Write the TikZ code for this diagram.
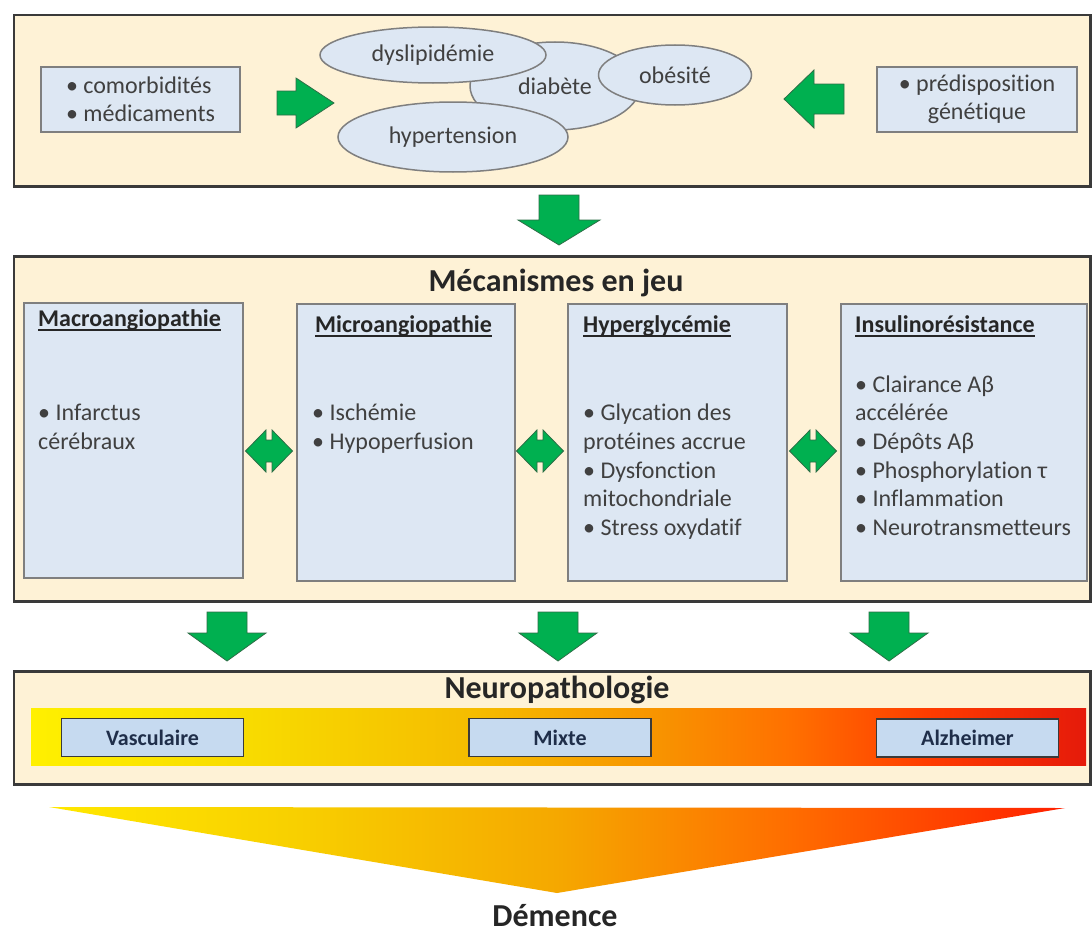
\documentclass[tikz,border=0pt]{standalone}
\usepackage{fontspec}
\setmainfont[Ligatures=NoCommon]{Carlito}
\usetikzlibrary{shapes.geometric}
\definecolor{cream}{HTML}{FEF2D6}
\definecolor{boxblue}{HTML}{DDE7F3}
\definecolor{neublue}{HTML}{C6DAF0}
\definecolor{frame}{HTML}{3A3A3A}
\definecolor{graybd}{HTML}{7F7F7F}
\definecolor{txt}{HTML}{404040}
\definecolor{head}{HTML}{262626}
\definecolor{navy}{HTML}{1F2E4A}
\definecolor{arrowgreen}{HTML}{00B050}
\definecolor{arrowedge}{HTML}{2D6E46}
\definecolor{ga}{HTML}{FFF000}
\definecolor{gb}{HTML}{F8DC00}
\definecolor{gc}{HTML}{F5BC00}
\definecolor{gd}{HTML}{F89200}
\definecolor{ge}{HTML}{FF7000}
\definecolor{gf}{HTML}{FF3C00}
\definecolor{gg}{HTML}{E51A0A}
\definecolor{ta}{HTML}{FFE800}
\definecolor{tb}{HTML}{F8D000}
\definecolor{tc}{HTML}{F5A800}
\definecolor{td}{HTML}{FF6A00}
\definecolor{te}{HTML}{FF2000}
\pgfdeclarehorizontalshading{neuroshade}{100bp}{color(0bp)=(ga); color(25bp)=(ga); color(35bp)=(gb); color(46bp)=(gc); color(55bp)=(gd); color(61bp)=(ge); color(67.5bp)=(gf); color(75bp)=(gg); color(100bp)=(gg)}
\pgfdeclarehorizontalshading{demshade}{100bp}{color(0bp)=(ta); color(25bp)=(ta); color(37bp)=(tb); color(50bp)=(tc); color(62bp)=(td); color(75bp)=(te); color(100bp)=(te)}
\tikzset{
  outerbox/.style={draw=frame, line width=2.5pt, fill=cream, anchor=north west, inner sep=0},
  subbox/.style={draw=graybd, line width=1.5pt, fill=boxblue, anchor=north west, inner sep=0},
  sidebox/.style={draw=graybd, line width=1.5pt, fill=boxblue, inner sep=0, text=txt},
  ell/.style={ellipse, draw=graybd, line width=1.5pt, fill=boxblue, inner sep=0, text=txt},
  neubox/.style={draw=frame, line width=1.5pt, fill=neublue, inner sep=0, minimum width=182pt, minimum height=38pt, text=navy, font=\fontsize{22}{26}\selectfont\bfseries},
  bigarrow/.style={fill=arrowgreen, draw=arrowedge, line width=0.8pt, line join=miter},
  linetext/.style={anchor=base west, inner sep=0, text=txt},
  headtext/.style={anchor=base west, inner sep=0, text=head, font=\fontsize{24}{29}\selectfont\bfseries},
  uline/.style={draw=head, line width=1.4pt},
  bigtitle/.style={anchor=base, inner sep=0, text=head, font=\fontsize{32}{38}\selectfont\bfseries}
}
\begin{document}
\begin{tikzpicture}[x=1pt, y=-1pt, font=\fontsize{24}{28}\selectfont]
\useasboundingbox (0,0) rectangle (1092,934);
\fill[white] (0,0) rectangle (1092,934);

% ---------- top frame ----------
\node[outerbox, minimum width=1076.5pt, minimum height=171pt] (topframe) at (12.5,14) {};
\node[sidebox, minimum width=199pt, minimum height=65pt, align=left] (comorb) at (140.5,99.5) {• comorbidités\\• médicaments};
\node[sidebox, minimum width=200pt, minimum height=65pt, align=center] (predisp) at (977,99.5) {• prédisposition\\génétique};
\node[ell, minimum width=170pt, minimum height=88pt] (diabete) at (555,86) {diabète};
\node[ell, minimum width=226pt, minimum height=56pt] (dyslip) at (433,55) {dyslipidémie};
\node[ell, minimum width=153pt, minimum height=60pt] (obesite) at (675,75) {obésité};
\node[ell, minimum width=230pt, minimum height=70pt] (hypert) at (453,137) {hypertension};
\draw[bigarrow] (277,91) -- (296,91) -- (296,78) -- (334,103) -- (296,128) -- (296,115) -- (277,115) -- cycle;
\draw[bigarrow] (844,84) -- (814,84) -- (814,70) -- (784,99) -- (814,128) -- (814,114) -- (844,114) -- cycle;

% ---------- arrow down ----------
\draw[bigarrow] (539,195) -- (579,195) -- (579,220) -- (600,220) -- (559,245) -- (518,220) -- (539,220) -- cycle;

% ---------- middle frame ----------
\node[outerbox, minimum width=1076.5pt, minimum height=345pt] (midframe) at (12.5,255) {};
\node[bigtitle] (mectitle) at (556,291) {Mécanismes en jeu};

\node[subbox, minimum width=219pt, minimum height=275pt] (macro) at (23,302) {};
\node[subbox, minimum width=218pt, minimum height=277pt] (micro) at (296,303) {};
\node[subbox, minimum width=219pt, minimum height=277pt] (hyper) at (567,303) {};
\node[subbox, minimum width=246pt, minimum height=277pt] (insul) at (840,303) {};

\node[headtext] (hmacro) at (38,326) {Macroangiopathie};
\node[headtext] (hmicro) at (315,332) {Microangiopathie};
\node[headtext] (hhyper) at (583,332) {Hyperglycémie};
\node[headtext] (hinsul) at (855,332) {Insulinorésistance};
\foreach \h in {hmacro,hmicro,hhyper,hinsul}
  \draw[uline] ([yshift=-4pt]\h.base west) -- ([yshift=-4pt]\h.base east);

\node[linetext] (ma1) at (38,420) {• Infarctus};
\node[linetext] (ma2) at (38,449) {cérébraux};
\node[linetext] (mi1) at (312,420) {• Ischémie};
\node[linetext] (mi2) at (312,449) {• Hypoperfusion};
\node[linetext] (hy1) at (583,420) {• Glycation des};
\node[linetext] (hy2) at (583,449) {protéines accrue};
\node[linetext] (hy3) at (583,478) {• Dysfonction};
\node[linetext] (hy4) at (583,506) {mitochondriale};
\node[linetext] (hy5) at (583,535) {• Stress oxydatif};
\node[linetext] (in1) at (855,392) {• Clairance Aβ};
\node[linetext] (in2) at (855,420) {accélérée};
\node[linetext] (in3) at (855,449) {• Dépôts Aβ};
\node[linetext] (in4) at (855,478) {• Phosphorylation τ};
\node[linetext] (in5) at (855,506) {• Inflammation};
\node[linetext] (in6) at (855,535) {• Neurotransmetteurs};

\foreach \cx in {269,540,813}
  \draw[bigarrow] (\cx-23.5,451) -- (\cx-3,430) -- (\cx-3,440) -- (\cx+3,440) -- (\cx+3,430)
    -- (\cx+23.5,451) -- (\cx+3,472) -- (\cx+3,462) -- (\cx-3,462) -- (\cx-3,472) -- cycle;

% ---------- arrows down ----------
\foreach \cx in {227,558,889}
  \draw[bigarrow] (\cx-20,612) -- (\cx+20,612) -- (\cx+20,633) -- (\cx+39,633) -- (\cx,661)
    -- (\cx-39,633) -- (\cx-20,633) -- cycle;

% ---------- neuropathology frame ----------
\node[outerbox, minimum width=1076.5pt, minimum height=113pt] (neuframe) at (12.5,670) {};
\node[bigtitle] (neutitle) at (557,698) {Neuropathologie};
\shade[shading=neuroshade] (31,708) rectangle (1086,765);
\node[neubox] (vasc) at (152.5,737.5) {Vasculaire};
\node[neubox] (mixte) at (560,737.5) {Mixte};
\node[neubox] (alz) at (967.5,738) {Alzheimer};

% ---------- dementia ----------
\shade[shading=demshade] (49,807) -- (1065,808) -- (557,893) -- cycle;
\node[bigtitle] (demence) at (555,926) {Démence};
\end{tikzpicture}
\end{document}
